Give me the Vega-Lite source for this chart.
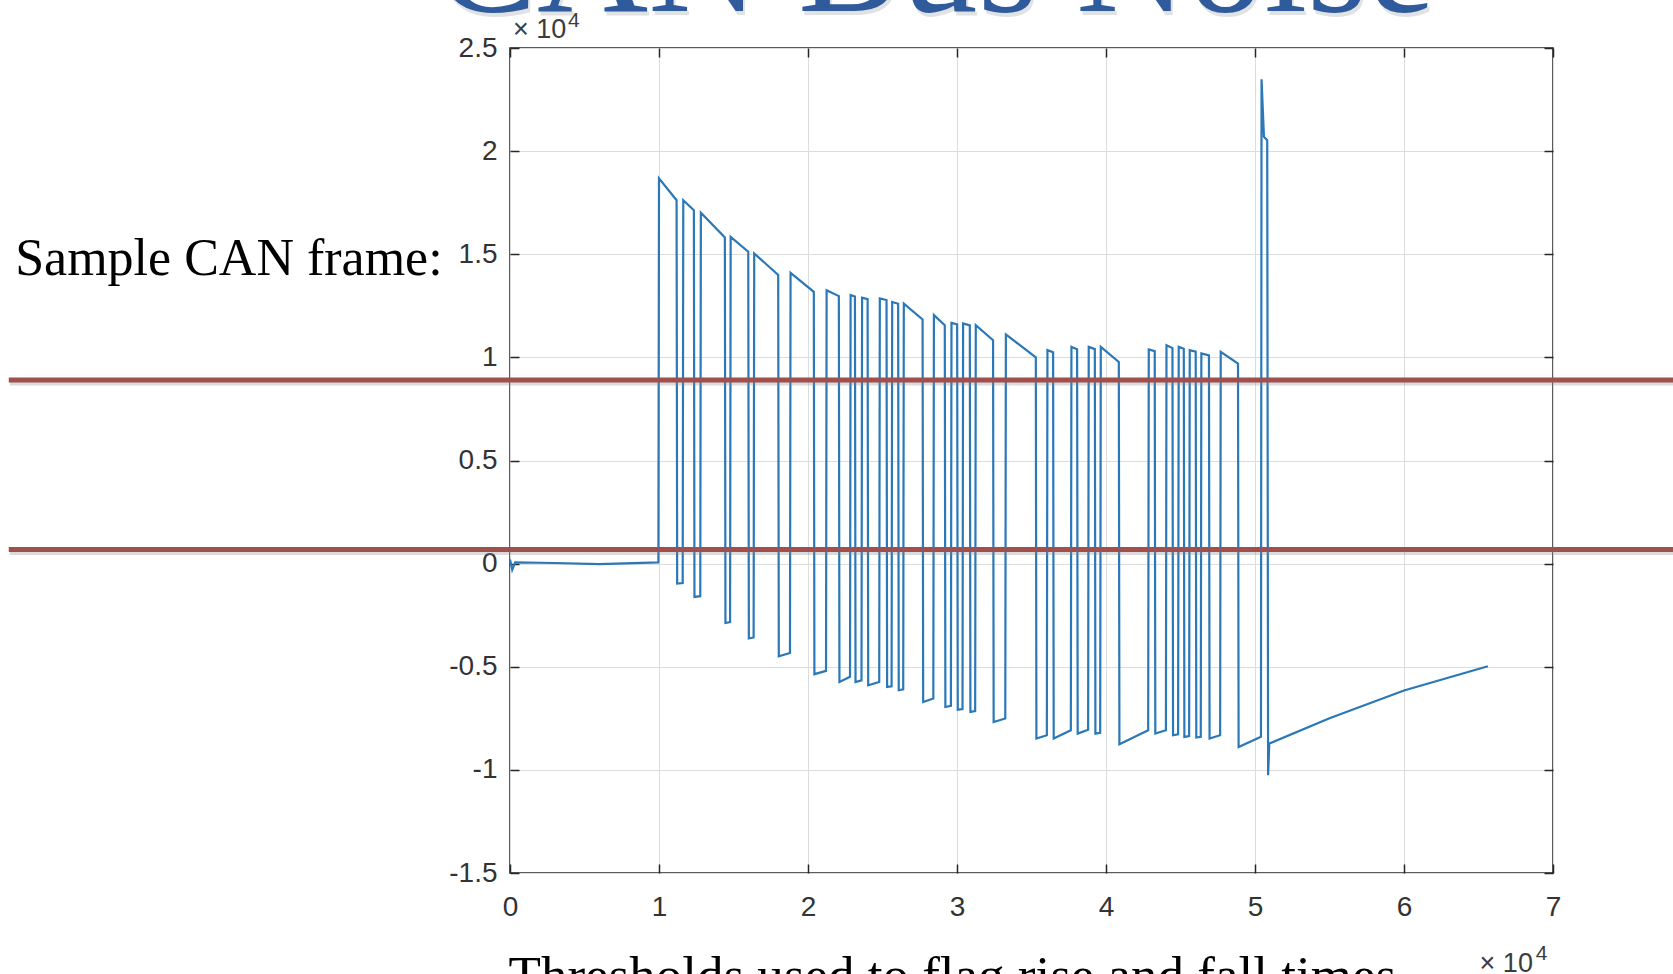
{
  "$schema": "https://vega.github.io/schema/vega-lite/v6.json",
  "width": 1043,
  "height": 825,
  "autosize": {"type": "none"},
  "padding": {"left": 510, "top": 48, "right": 120, "bottom": 101},
  "background": "white",
  "config": {
    "view": {"stroke": "#262626", "strokeWidth": 1.5},
    "text": {"font": "Liberation Serif"}
  },
  "datasets": {
    "signal": [
      {"t":0,"v":200},{"t":150,"v":-300},{"t":350,"v":60},{"t":3000,"v":30},{"t":6000,"v":-20},{"t":9960,"v":60},
      {"t":10000,"v":18680},{"t":11180,"v":17620},{"t":11220,"v":-965},{"t":11590,"v":-940},
      {"t":11630,"v":17620},{"t":12340,"v":17140},{"t":12380,"v":-1615},{"t":12770,"v":-1580},
      {"t":12810,"v":17010},{"t":14420,"v":15815},{"t":14460,"v":-2880},{"t":14770,"v":-2840},
      {"t":14810,"v":15840},{"t":15990,"v":15120},{"t":16030,"v":-3630},{"t":16350,"v":-3580},
      {"t":16390,"v":15040},{"t":18000,"v":14000},{"t":18040,"v":-4490},{"t":18790,"v":-4330},
      {"t":18830,"v":14100},{"t":20390,"v":13180},{"t":20430,"v":-5360},{"t":21210,"v":-5200},
      {"t":21250,"v":13260},{"t":22070,"v":12970},{"t":22110,"v":-5740},{"t":22820,"v":-5490},
      {"t":22860,"v":13020},{"t":23150,"v":12950},{"t":23190,"v":-5740},{"t":23590,"v":-5660},
      {"t":23630,"v":12890},{"t":24000,"v":12820},{"t":24040,"v":-5900},{"t":24780,"v":-5740},
      {"t":24820,"v":12860},{"t":25270,"v":12780},{"t":25310,"v":-5980},{"t":25610,"v":-5950},
      {"t":25650,"v":12690},{"t":26050,"v":12600},{"t":26090,"v":-6140},{"t":26390,"v":-6100},
      {"t":26430,"v":12610},{"t":27690,"v":11840},{"t":27730,"v":-6710},{"t":28410,"v":-6540},
      {"t":28450,"v":12050},{"t":29180,"v":11560},{"t":29220,"v":-6950},{"t":29590,"v":-6900},
      {"t":29630,"v":11670},{"t":30010,"v":11600},{"t":30050,"v":-7080},{"t":30370,"v":-7050},
      {"t":30410,"v":11640},{"t":30860,"v":11550},{"t":30900,"v":-7190},{"t":31220,"v":-7150},
      {"t":31260,"v":11560},{"t":32420,"v":10830},{"t":32460,"v":-7680},{"t":33240,"v":-7510},
      {"t":33280,"v":11110},{"t":35290,"v":10000},{"t":35330,"v":-8480},{"t":36030,"v":-8320},
      {"t":36070,"v":10350},{"t":36450,"v":10250},{"t":36490,"v":-8480},{"t":37640,"v":-8080},
      {"t":37680,"v":10510},{"t":38060,"v":10400},{"t":38100,"v":-8240},{"t":38800,"v":-8050},
      {"t":38840,"v":10510},{"t":39250,"v":10400},{"t":39290,"v":-8240},{"t":39610,"v":-8200},
      {"t":39650,"v":10510},{"t":40860,"v":9780},{"t":40900,"v":-8760},{"t":42830,"v":-8080},
      {"t":42870,"v":10380},{"t":43270,"v":10300},{"t":43310,"v":-8240},{"t":44020,"v":-8080},
      {"t":44060,"v":10590},{"t":44460,"v":10450},{"t":44500,"v":-8320},{"t":44840,"v":-8280},
      {"t":44880,"v":10510},{"t":45220,"v":10420},{"t":45260,"v":-8400},{"t":45580,"v":-8360},
      {"t":45620,"v":10350},{"t":46020,"v":10280},{"t":46060,"v":-8430},{"t":46360,"v":-8400},
      {"t":46400,"v":10190},{"t":46910,"v":10100},{"t":46950,"v":-8480},{"t":47660,"v":-8320},
      {"t":47700,"v":10270},{"t":48860,"v":9700},{"t":48900,"v":-8890},{"t":50400,"v":-8400},
      {"t":50440,"v":23480},{"t":50600,"v":20690},{"t":50820,"v":20530},{"t":50880,"v":-10260},
      {"t":50960,"v":-8720},{"t":55000,"v":-7500},{"t":60000,"v":-6150},{"t":65630,"v":-4976}
    ],
    "thresholds": [
      {"t": -33640, "t2": 80000, "v": 8900},
      {"t": -33640, "t2": 80000, "v": 680}
    ]
  },
  "resolve": {"axis": {"x": "independent", "y": "independent"}},
  "layer": [
    {
      "data": {"name": "signal"},
      "mark": {"type": "line", "color": "#2a78b8", "strokeWidth": 2.2},
      "encoding": {
        "x": {"field": "t", "type": "quantitative",
          "scale": {"domain": [0, 70000], "nice": false, "zero": false},
          "axis": {"orient": "bottom", "title": null, "values": [0,10000,20000,30000,40000,50000,60000,70000],
            "labelExpr": "'' + (datum.value / 10000)", "labelFont": "Liberation Sans", "labelFontSize": 28,
            "labelColor": "#333333", "labelFlush": false, "labelOverlap": false, "labelPadding": 29,
            "tickSize": -9, "tickColor": "#262626", "tickWidth": 1.5, "domain": false,
            "grid": true, "gridColor": "#dcdcdc", "gridWidth": 1}},
        "y": {"field": "v", "type": "quantitative",
          "scale": {"domain": [-15000, 25000], "nice": false, "zero": false},
          "axis": {"orient": "left", "title": null, "values": [-15000,-10000,-5000,0,5000,10000,15000,20000,25000],
            "labelExpr": "'' + (datum.value / 10000)", "labelFont": "Liberation Sans", "labelFontSize": 28,
            "labelColor": "#333333", "labelFlush": false, "labelOverlap": false, "labelPadding": 22,
            "tickSize": -9, "tickColor": "#262626", "tickWidth": 1.5, "domain": false,
            "grid": true, "gridColor": "#dcdcdc", "gridWidth": 1}}
      }
    },
    {
      "data": {"name": "thresholds"},
      "mark": {"type": "rule", "color": "#888888", "opacity": 0.3, "strokeWidth": 5, "yOffset": 3, "xOffset": 1},
      "encoding": {
        "x": {"field": "t", "type": "quantitative", "scale": {"domain": [0, 70000], "nice": false, "zero": false}, "axis": null},
        "x2": {"field": "t2"},
        "y": {"field": "v", "type": "quantitative", "scale": {"domain": [-15000, 25000], "nice": false, "zero": false}, "axis": null}
      }
    },
    {
      "data": {"name": "thresholds"},
      "mark": {"type": "rule", "color": "#a04f4f", "strokeWidth": 5},
      "encoding": {
        "x": {"field": "t", "type": "quantitative",
          "scale": {"domain": [0, 70000], "nice": false, "zero": false},
          "axis": {"orient": "top", "title": null, "labels": false, "values": [0,10000,20000,30000,40000,50000,60000,70000],
            "tickSize": -9, "tickColor": "#262626", "tickWidth": 1.5, "domain": false, "grid": false}},
        "x2": {"field": "t2"},
        "y": {"field": "v", "type": "quantitative",
          "scale": {"domain": [-15000, 25000], "nice": false, "zero": false},
          "axis": {"orient": "right", "title": null, "labels": false, "values": [-15000,-10000,-5000,0,5000,10000,15000,20000,25000],
            "tickSize": -9, "tickColor": "#262626", "tickWidth": 1.5, "domain": false, "grid": false}}
      }
    },
    {
      "data": {"values": [{"t": 28510, "v": 26800, "label": "CAN Bus Noise"}]},
      "mark": {"type": "text", "font": "Liberation Serif", "fontSize": 154, "color": "#9aa0a8", "opacity": 0.3, "align": "center", "baseline": "alphabetic", "dx": 2, "dy": 4},
      "encoding": {
        "x": {"field": "t", "type": "quantitative", "scale": {"domain": [0, 70000], "nice": false, "zero": false}, "axis": null},
        "y": {"field": "v", "type": "quantitative", "scale": {"domain": [-15000, 25000], "nice": false, "zero": false}, "axis": null},
        "text": {"field": "label"}
      }
    },
    {
      "data": {"values": [{"t": 28510, "v": 26800, "label": "CAN Bus Noise"}]},
      "mark": {"type": "text", "font": "Liberation Serif", "fontSize": 154, "color": "#2f5b9c", "align": "center", "baseline": "alphabetic"},
      "encoding": {
        "x": {"field": "t", "type": "quantitative", "scale": {"domain": [0, 70000], "nice": false, "zero": false}, "axis": null},
        "y": {"field": "v", "type": "quantitative", "scale": {"domain": [-15000, 25000], "nice": false, "zero": false}, "axis": null},
        "text": {"field": "label"}
      }
    },
    {
      "data": {"values": [
        {"t": -33210, "v": 13990, "label": "Sample CAN frame:"}
      ]},
      "mark": {"type": "text", "font": "Liberation Serif", "fontSize": 52, "color": "#000000", "align": "left", "baseline": "alphabetic"},
      "encoding": {
        "x": {"field": "t", "type": "quantitative", "scale": {"domain": [0, 70000], "nice": false, "zero": false}, "axis": null},
        "y": {"field": "v", "type": "quantitative", "scale": {"domain": [-15000, 25000], "nice": false, "zero": false}, "axis": null},
        "text": {"field": "label"}
      }
    },
    {
      "data": {"values": [
        {"t": -100, "v": -20800, "label": "Thresholds used to flag rise and fall times"}
      ]},
      "mark": {"type": "text", "font": "Liberation Serif", "fontSize": 53, "color": "#000000", "align": "left", "baseline": "alphabetic"},
      "encoding": {
        "x": {"field": "t", "type": "quantitative", "scale": {"domain": [0, 70000], "nice": false, "zero": false}, "axis": null},
        "y": {"field": "v", "type": "quantitative", "scale": {"domain": [-15000, 25000], "nice": false, "zero": false}, "axis": null},
        "text": {"field": "label"}
      }
    },
    {
      "data": {"values": [
        {"t": 201, "v": 25504, "label": "× 10"},
        {"t": 65074, "v": -19801, "label": "× 10"}
      ]},
      "mark": {"type": "text", "font": "Liberation Sans", "fontSize": 27, "color": "#3c3c3c", "align": "left", "baseline": "alphabetic"},
      "encoding": {
        "x": {"field": "t", "type": "quantitative", "scale": {"domain": [0, 70000], "nice": false, "zero": false}, "axis": null},
        "y": {"field": "v", "type": "quantitative", "scale": {"domain": [-15000, 25000], "nice": false, "zero": false}, "axis": null},
        "text": {"field": "label"}
      }
    },
    {
      "data": {"values": [
        {"t": 3891, "v": 26013, "label": "4"},
        {"t": 68840, "v": -19234, "label": "4"}
      ]},
      "mark": {"type": "text", "font": "Liberation Sans", "fontSize": 21, "color": "#3c3c3c", "align": "left", "baseline": "alphabetic"},
      "encoding": {
        "x": {"field": "t", "type": "quantitative", "scale": {"domain": [0, 70000], "nice": false, "zero": false}, "axis": null},
        "y": {"field": "v", "type": "quantitative", "scale": {"domain": [-15000, 25000], "nice": false, "zero": false}, "axis": null},
        "text": {"field": "label"}
      }
    }
  ]
}
